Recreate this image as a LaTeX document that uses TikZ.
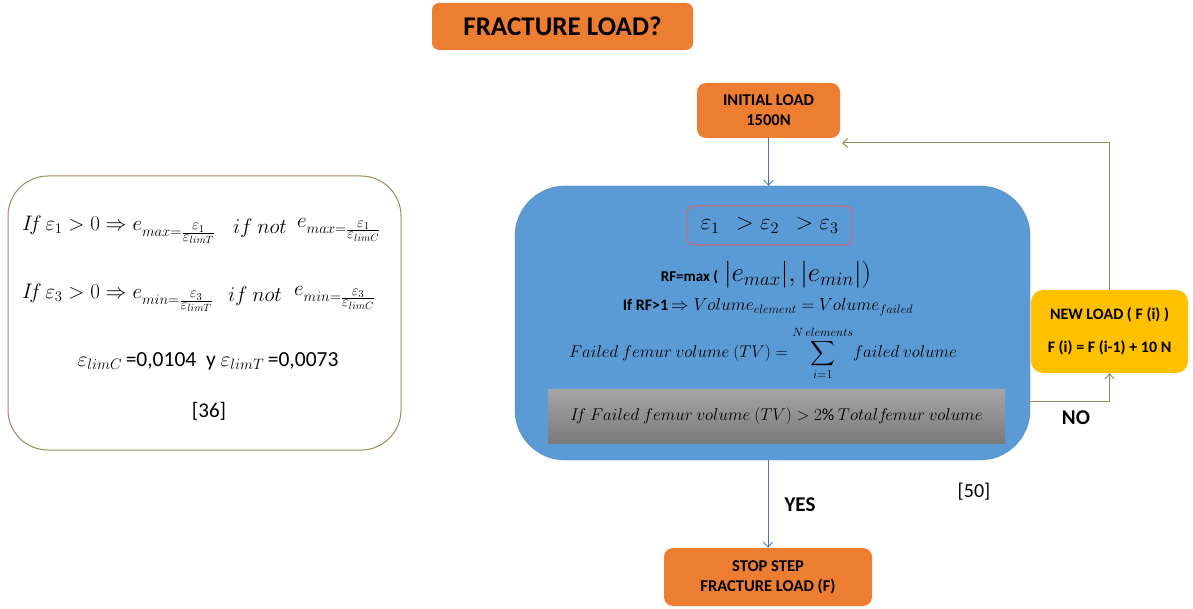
\documentclass[tikz,border=0pt]{standalone}
\usepackage{fix-cm}
\usepackage{amsmath}
\usepackage{exscale}
\usepackage{fontspec}
\setmainfont{Carlito}
\usetikzlibrary{arrows.meta}
\definecolor{orng}{HTML}{ED7D31}
\definecolor{blu}{HTML}{5B9BD5}
\definecolor{goldf}{HTML}{FFC000}
\definecolor{brn}{HTML}{A08A5C}
\definecolor{arrblue}{HTML}{4472C4}
\definecolor{redb}{HTML}{E0606A}
\definecolor{grtop}{HTML}{A5A5A5}
\definecolor{grbot}{HTML}{7A7A7A}
\newcommand{\sfr}[2]{\frac{\scriptstyle #1}{\scriptstyle #2}}
\tikzset{
  obox/.style={draw=none, fill=orng, rounded corners=9pt, align=center, font=\fontsize{16.5}{20}\selectfont\bfseries},
  barrow/.style={draw=arrblue, line width=0.8pt, -{Straight Barb[length=5pt,width=9pt]}},
  brarrow/.style={draw=brn, line width=1pt, -{Straight Barb[length=5pt,width=9pt]}},
  lbl/.style={font=\fontsize{21}{25}\selectfont\bfseries},
  ltxt/.style={anchor=west, font=\fontsize{21}{25}\selectfont, inner sep=0pt},
}
\begin{document}
\begin{tikzpicture}[x=1pt,y=-1pt]
\useasboundingbox (0,0) rectangle (1193,609);
\fill[white] (0,0) rectangle (1193,609);

% title
\node[obox, rounded corners=7pt, minimum width=261pt, minimum height=47pt, font=\fontsize{27}{30}\selectfont\bfseries] (title) at (562.5,26.5) {FRACTURE LOAD?};

% left box
\node[draw=brn, line width=1pt, fill=white, rounded corners=40pt, minimum width=393pt, minimum height=274pt] (left) at (204.5,313) {};
\node[ltxt] (l1a) at (22,230) {$I\!f\,\varepsilon_1 > 0 \Rightarrow e_{max=\sfr{\varepsilon_1}{\varepsilon_{limT}}}$};
\node[ltxt] (l1b) at (233,228) {$if\ not$};
\node[ltxt] (l1c) at (297,230) {$e_{max=\sfr{\varepsilon_1}{\varepsilon_{limC}}}$};
\node[ltxt] (l2a) at (22,298) {$I\!f\,\varepsilon_3 > 0 \Rightarrow e_{min=\sfr{\varepsilon_3}{\varepsilon_{limT}}}$};
\node[ltxt] (l2b) at (228,296) {$if\ not$};
\node[ltxt] (l2c) at (294,298) {$e_{min=\sfr{\varepsilon_3}{\varepsilon_{limC}}}$};
\node[font=\fontsize{21.5}{25}\selectfont] (l3) at (208,361) {$\varepsilon_{limC}$\,=0,0104\ \ y $\varepsilon_{limT}$\,=0,0073};
\node[font=\fontsize{21}{24}\selectfont] (ref36) at (209,411) {[36]};

% initial load
\node[obox, minimum width=143pt, minimum height=55pt] (init) at (768.5,110.5) {INITIAL LOAD\\1500N};

% blue box
\node[fill=blu, draw=blu!85!black, line width=0.4pt, rounded corners=50pt, minimum width=515pt, minimum height=274pt] (blue) at (772.5,323) {};
\node[draw=redb, line width=1pt, fill=blu, rounded corners=7pt, minimum width=165pt, minimum height=39pt, font=\fontsize{23}{26}\selectfont] (order) at (769.5,225.5) {$\varepsilon_1\;\,>\varepsilon_2\;\,>\varepsilon_3$};
\node[font=\fontsize{27}{30}\selectfont] (rf) at (766,275) {{\fontsize{15}{18}\selectfont\bfseries RF=max (}\ $|e_{max}|,|e_{min}|)$};
\node[font=\fontsize{17.5}{20}\selectfont] (vol) at (768,307) {{\fontsize{16}{18}\selectfont\bfseries If RF>1}\,$\Rightarrow Volume_{element}=Volume_{failed}$};
\node[font=\fontsize{17}{20}\selectfont] (sum) at (763,353) {$\displaystyle Failed\ femur\ volume\ (TV)=\sum_{i=1}^{N\,elements}\!failed\ volume$};
\node[top color=grtop, bottom color=grbot, draw=none, minimum width=457pt, minimum height=54pt, inner sep=0pt, font=\fontsize{17}{20}\selectfont] (gray) at (776.5,416) {\raisebox{-6pt}{$I\!f\ Failed\ femur\ volume\ (TV)>2\%\ Total f\!emur\ volume$}};

% new load
\node[fill=goldf, draw=none, rounded corners=12pt, minimum width=157pt, minimum height=83pt, align=center, font=\fontsize{16}{19}\selectfont\bfseries] (newl) at (1109.5,331.5) {NEW LOAD ( F (i) )\\[14pt] F (i) = F (i-1) + 10 N};

% stop
\node[obox, minimum width=208pt, minimum height=58pt] (stop) at (768,577) {STOP STEP\\FRACTURE LOAD (F)};

% labels
\node[lbl] (yes) at (800,505) {YES};
\node[lbl] (no) at (1076,418) {NO};
\node[font=\fontsize{20}{24}\selectfont] (ref50) at (974,492) {[50]};

% connectors
\coordinate (noout) at (1027,401);
\coordinate (fbin) at (842,143);
\draw[barrow] (init.south) -- (init.south |- blue.north);
\draw[barrow] (stop.north |- blue.south) -- (stop.north);
\draw[brarrow] (noout) -| (newl.south);
\draw[brarrow] (newl.north) |- (fbin);
\end{tikzpicture}
\end{document}
